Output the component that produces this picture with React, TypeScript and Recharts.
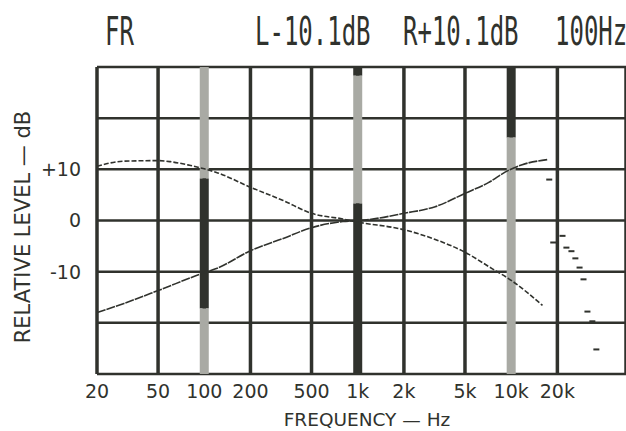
import {
  CartesianGrid,
  ComposedChart,
  Label,
  Line,
  ReferenceLine,
  Scatter,
  XAxis,
  YAxis
} from 'recharts';

// frequency axis (Hz) and level axis (dB)
const freqTicks = [20, 50, 100, 200, 500, 1000, 2000, 5000, 10000, 20000];
const freqLabels = ['20', '50', '100', '200', '500', '1k', '2k', '5k', '10k', '20k'];
const levelTicks = [-30, -20, -10, 0, 10, 20, 30];
const levelLabels = ['', '', '-10', '0', '+10', '', ''];

// right channel response (falling curve)
const rightFreq = [20, 30, 50, 60, 80, 100, 120, 200, 327, 500, 800, 1000, 2000, 3200, 5000, 7500, 10000, 16000];
const rightLevel = [10.6, 11.6, 11.7, 11.5, 10.8, 10.1, 9.4, 6.5, 3.9, 1.4, 0.3, -0.3, -1.8, -3.7, -6.2, -9.4, -11.7, -16.6];

// left channel response (rising curve)
const leftFreq = [20, 30, 50, 100, 120, 200, 327, 500, 800, 1050, 2000, 3200, 5000, 7100, 9600, 11800, 17200];
const leftLevel = [-18, -16.2, -13.7, -10.2, -9.4, -5.9, -3.5, -1.4, -0.2, 0, 1.4, 2.7, 5.3, 7.4, 9.8, 10.9, 11.9];

// stray plotter dashes above 17 kHz
const tailFreq = [17700, 18800, 21600, 22900, 24700, 26200, 27900, 29600, 31400, 33800, 35900];
const tailLevel = [8, -4.3, -3, -5.3, -6, -7.4, -9.2, -11.5, -17.8, -19.7, -25.2];

// marker bars: frequency and shaded spans (top dB, bottom dB, tone)
const markerFreq = [100, 1000, 10000];
const markerSpans = [
  [[30, 8.2, 'light'], [8.2, -17.2, 'dark'], [-17.2, -30, 'light']],
  [[30, 28.3, 'dark'], [28.3, 3.3, 'light'], [3.3, -30, 'dark']],
  [[30, 16.2, 'dark'], [16.2, -30, 'light']]
] as [number, number, string][][];

const titleParts = ['FR', 'L-10.1dB', 'R+10.1dB', '100Hz'];
const titleX = [105, 255, 403, 555];

const rightData = rightFreq.map((f, i) => ({ f, db: rightLevel[i] }));
const leftData = leftFreq.map((f, i) => ({ f, db: leftLevel[i] }));
const tailData = tailFreq.map((f, i) => ({ f, db: tailLevel[i] }));

const ink = '#30322d';
const tones: Record<string, string> = { light: '#a9aaa4', dark: '#30322d' };

const YTick = (props: any) => {
  const { x, y, payload } = props;
  const label = levelLabels[levelTicks.indexOf(payload.value)];
  if (!label) return null;
  return (
    <text x={x} y={y} dy='0.36em' textAnchor='end' fill={ink} fontSize={19} fontFamily='DejaVu Sans'>
      {label}
    </text>
  );
};

const Dash = (props: any) => <rect x={props.cx - 3} y={props.cy - 1} width={6} height={2} fill={ink} />;

export default function App() {
  return (
    <div style={{ position: 'absolute', left: 0, top: 0, width: 626, height: 431, background: '#fff' }}>
      <ComposedChart width={626} height={431} margin={{ top: 67, right: 0, bottom: 0, left: 0 }}>
        <CartesianGrid vertical={false} stroke={ink} strokeWidth={2.5} strokeOpacity={1} />
        <CartesianGrid horizontal={false} stroke={ink} strokeWidth={3.5} strokeOpacity={1} />
        <XAxis
          dataKey='f'
          type='number'
          scale='log'
          domain={[20, 56000]}
          allowDataOverflow
          ticks={freqTicks}
          tickFormatter={(v: number) => freqLabels[freqTicks.indexOf(v)]}
          height={57}
          axisLine={false}
          tickLine={false}
          tickSize={0}
          tickMargin={11}
          tick={{ fill: ink, fontSize: 19, fontFamily: 'DejaVu Sans' }}>
          <Label
            content={() => (
              <text x={367} y={426} textAnchor='middle' fill={ink} fontSize={18.5} fontFamily='DejaVu Sans'>
                FREQUENCY — Hz
              </text>
            )}
          />
        </XAxis>
        <YAxis
          type='number'
          domain={[-30, 30]}
          ticks={levelTicks}
          width={97}
          axisLine={false}
          tickLine={false}
          tickSize={0}
          tickMargin={16}
          tick={<YTick />}>
          <Label
            content={() => {
              const cx = 30;
              const cy = 227;
              return (
                <text
                  x={cx}
                  y={cy}
                  transform={`rotate(-90 ${cx} ${cy})`}
                  textAnchor='middle'
                  fill={ink}
                  fontSize={21}
                  fontFamily='DejaVu Sans'>
                  RELATIVE LEVEL — dB
                </text>
              );
            }}
          />
        </YAxis>
        {markerFreq.map((mf, i) =>
          markerSpans[i].map(([top, bottom, tone], j) => (
            <ReferenceLine
              key={`m${i}-${j}`}
              segment={[
                { x: mf, y: top },
                { x: mf, y: bottom }
              ]}
              stroke={tones[tone]}
              strokeWidth={9}
            />
          ))
        )}
        <Line
          data={rightData}
          dataKey='db'
          type='monotone'
          stroke={ink}
          strokeWidth={1.6}
          strokeDasharray='5 2'
          dot={false}
          isAnimationActive={false}
        />
        <Line
          data={leftData}
          dataKey='db'
          type='monotone'
          stroke={ink}
          strokeWidth={1.6}
          strokeDasharray='9 1'
          dot={false}
          isAnimationActive={false}
        />
        <Scatter data={tailData} dataKey='db' shape={<Dash />} isAnimationActive={false} />
      </ComposedChart>
      <svg width={626} height={60} style={{ position: 'absolute', left: 0, top: 0 }}>
        {titleParts.map((t, i) => (
          <text
            key={t}
            transform={`translate(${titleX[i]} 45) scale(1 1.6)`}
            fill={ink}
            fontSize={24}
            fontFamily='DejaVu Sans Mono'>
            {t}
          </text>
        ))}
      </svg>
    </div>
  );
}
